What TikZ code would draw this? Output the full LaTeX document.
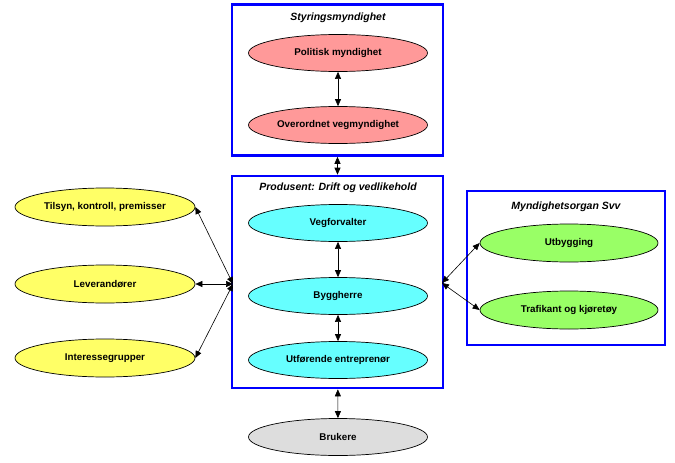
\documentclass[tikz,border=0pt]{standalone}
\usepackage{fontspec}
\setmainfont{Liberation Sans}
\usetikzlibrary{shapes.geometric,arrows.meta}
\definecolor{pinkf}{RGB}{255,153,153}
\definecolor{cyanf}{RGB}{102,255,255}
\definecolor{yellowf}{RGB}{255,255,102}
\definecolor{greenf}{RGB}{153,255,102}
\definecolor{grayf}{RGB}{221,221,221}
\definecolor{boxblue}{RGB}{0,0,255}
\begin{document}
\begin{tikzpicture}[x=1pt,y=-1pt,
  ell/.style={ellipse,draw=black,line width=0.7pt,minimum width=179pt,minimum height=37pt,inner sep=0pt,font=\fontsize{9.8}{11}\selectfont\bfseries},
  grp/.style={draw=boxblue,line width=2.6pt,rectangle,inner sep=0pt},
  ttl/.style={font=\fontsize{10.5}{12}\selectfont\bfseries\itshape,inner sep=0pt},
  conn/.style={draw=black,line width=0.6pt,{Triangle[length=7pt,width=6pt]}-{Triangle[length=7pt,width=6pt]}}
]
\useasboundingbox (0,0) rectangle (675,463);
% group boxes
\node[grp,minimum width=211pt,minimum height=151pt] (styr) at (337.5,80) {};
\node[grp,minimum width=211pt,minimum height=212pt] (prod) at (337.5,282) {};
\node[grp,minimum width=198pt,minimum height=154pt] (svv) at (566,268) {};
% titles
\node[ttl] (tstyr) at (338,18) {Styringsmyndighet};
\node[ttl] (tprod) at (338,188) {Produsent: Drift og vedlikehold};
\node[ttl] (tsvv) at (566,207) {Myndighetsorgan Svv};
% ellipses
\node[ell,fill=pinkf] (pol) at (338,53) {Politisk myndighet};
\node[ell,fill=pinkf] (ovr) at (338,125) {Overordnet vegmyndighet};
\node[ell,fill=cyanf] (veg) at (338,223) {Vegforvalter};
\node[ell,fill=cyanf] (byg) at (338,296) {Byggherre};
\node[ell,fill=cyanf] (utf) at (338,360) {Utførende entreprenør};
\node[ell,fill=grayf] (bru) at (338,437) {Brukere};
\node[ell,fill=yellowf,minimum width=180pt,minimum height=38pt] (til) at (105,207) {Tilsyn, kontroll, premisser};
\node[ell,fill=yellowf,minimum width=180pt,minimum height=38pt] (lev) at (105,284) {Leverandører};
\node[ell,fill=yellowf,minimum width=180pt,minimum height=38pt] (int) at (105,358) {Interessegrupper};
\node[ell,fill=greenf,minimum width=178pt,minimum height=38pt] (utb) at (569,243) {Utbygging};
\node[ell,fill=greenf,minimum width=178pt,minimum height=38pt] (tra) at (569,310) {Trafikant og kjøretøy};
% connection points
\coordinate (pl) at (233,284);
\coordinate (pr) at (442,283);
% connectors
\draw[conn] (pol) -- (ovr);
\draw[conn] (styr) -- (prod);
\draw[conn] (veg) -- (byg);
\draw[conn] (byg) -- (utf);
\draw[conn] (prod) -- (bru);
\draw[conn] (til.east) -- (pl);
\draw[conn] (lev.east) -- (pl);
\draw[conn] (int.east) -- (pl);
\draw[conn] (pr) -- (utb.west);
\draw[conn] (pr) -- (tra.west);
\end{tikzpicture}
\end{document}
